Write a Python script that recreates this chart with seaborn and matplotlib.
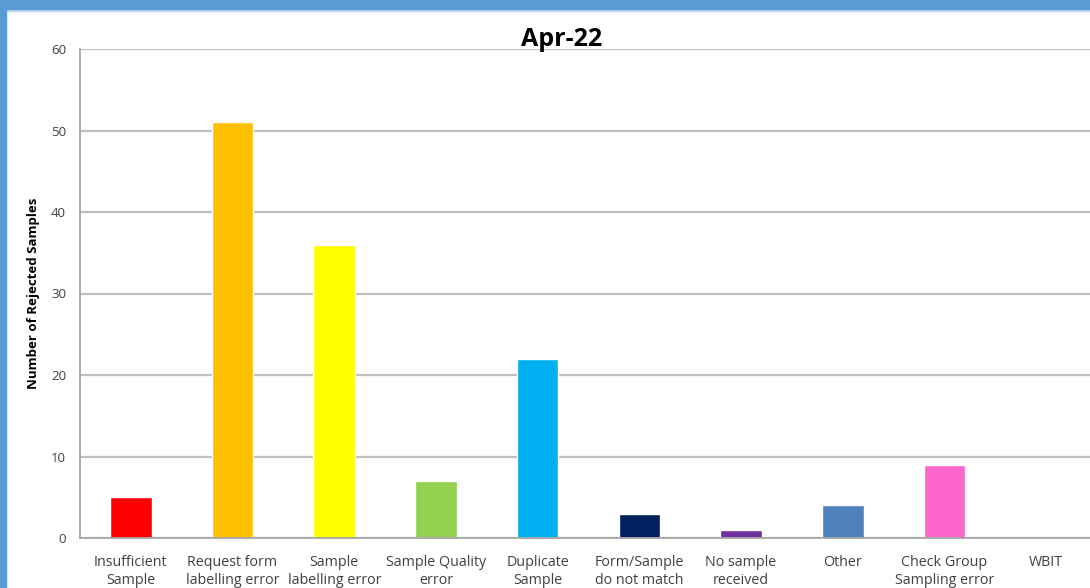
import matplotlib
matplotlib.use("Agg")
import matplotlib.pyplot as plt
import seaborn as sns
import pandas as pd
import numpy as np
from matplotlib.patches import Rectangle

categories = ["Insufficient\nSample", "Request form\nlabelling error", "Sample\nlabelling error",
              "Sample Quality\nerror", "Duplicate\nSample", "Form/Sample\ndo not match",
              "No sample\nreceived", "Other", "Check Group\nSampling error", "WBIT"]
values = [5, 51, 36, 7, 22, 3, 1, 4, 9, 0]
colors = ["#FF0000", "#FFC000", "#FFFF00", "#92D050", "#00B0F0", "#002060",
          "#7030A0", "#4F81BD", "#FF66CC", "#A0A0A0"]
yticks = [0, 10, 20, 30, 40, 50, 60]
title = "Apr-22"
ylabel = "Number of Rejected Samples"

sns.set_style("white")
plt.rcParams['font.family'] = ['Open Sans', 'DejaVu Sans']

df = pd.DataFrame({"cat": categories, "val": values})

fig = plt.figure(figsize=(10.9, 5.88), dpi=100)
ax = fig.add_axes([80/1090, 50/588, (1097-80)/1090, (538-49)/588])
sns.barplot(data=df, x="cat", y="val", hue="cat", palette=colors, legend=False,
            width=0.41, ax=ax, saturation=1)

ax.set_ylim(0, 60)
ax.set_xlim(-0.5, 9.5)
ax.set_yticks(yticks)
ax.yaxis.grid(True, color="#BFBFBF", linewidth=1.6)
ax.set_axisbelow(True)
for s in ["top", "right"]:
    ax.spines[s].set_visible(False)
for s in ["left", "bottom"]:
    ax.spines[s].set_color("#A6A6A6")
    ax.spines[s].set_linewidth(1.3)

ax.tick_params(axis="y", length=5, width=1.3, color="#A6A6A6", labelsize=9.5,
               labelcolor="#404040", pad=5)
ax.set_xticks(range(len(categories)))
ax.set_xticklabels(categories, fontsize=10.3, color="#404040", linespacing=1.3)
ax.tick_params(axis="x", which="major", length=0, pad=12)
ax.set_xticks(np.arange(-0.5, 10, 1), minor=True)
ax.tick_params(axis="x", which="minor", length=5, width=1.3, color="#A6A6A6")

ax.set_xlabel("")
ax.set_ylabel(ylabel, fontsize=9.5, fontweight="bold", color="#000000", labelpad=8)

fig.text(562/1090, 1 - 40/588, title, ha="center", va="center", fontsize=18,
         fontweight="bold", color="#000000")

# blue frame (top and left edges)
fig.patches.append(Rectangle((0, 1 - 9/588), 1, 9/588, transform=fig.transFigure,
                             color="#5B9BD5", zorder=10))
fig.patches.append(Rectangle((0, 1 - 10.5/588), 1, 1.5/588, transform=fig.transFigure,
                             color="#BDD7EE", zorder=9))
fig.patches.append(Rectangle((0, 0), 6/1090, 1, transform=fig.transFigure,
                             color="#5B9BD5", zorder=10))

fig.savefig("out.png", dpi=100)
